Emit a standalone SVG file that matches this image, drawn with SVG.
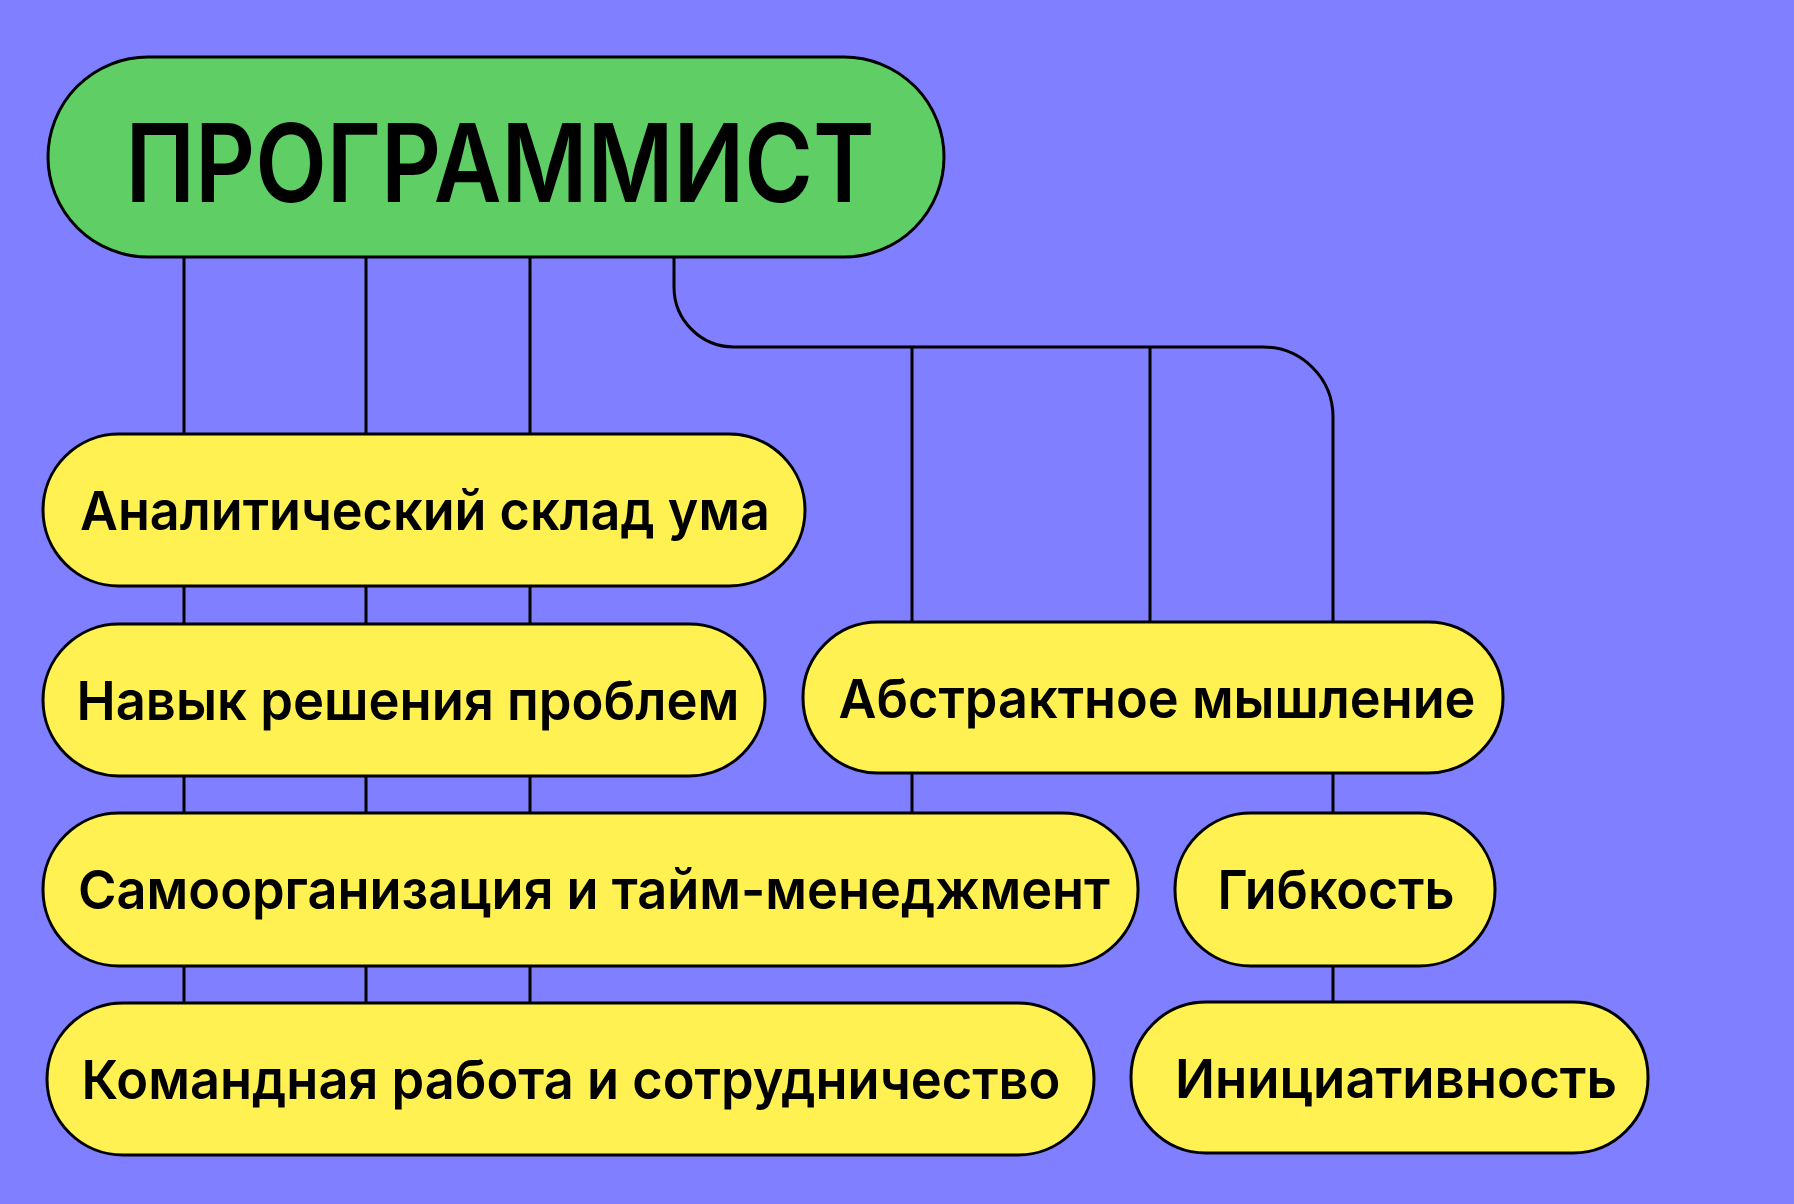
<svg xmlns="http://www.w3.org/2000/svg" width="1794" height="1204" viewBox="0 0 1794 1204">
<style>
.n{fill:#fff152;stroke:#000;stroke-width:3}
.m{fill:#5fcf65;stroke:#000;stroke-width:3}
.t{font-family:"Inter","Noto Sans","Liberation Sans",sans-serif;font-weight:600;font-size:54px;fill:#000;text-anchor:middle;dominant-baseline:central}
.c{fill:none;stroke:#000;stroke-width:3}
</style>
<rect width="1794" height="1204" fill="#7f7fff"/>
<g id="connectors" class="c">
<path d="M184 257V1003M366 257V1003M530 257V1003"/>
<path d="M674 257V287A60 60 0 0 0 734 347H1263A70 70 0 0 1 1333 417V1002"/>
<path d="M912 347V813M1150 347V622"/>
</g>
<g id="programmist"><rect class="m" x="48" y="57" width="896" height="200" rx="100"/><text class="t" x="500" y="162" style="font-size:108px" textLength="749" lengthAdjust="spacingAndGlyphs">ПРОГРАММИСТ</text></g>
<g id="n1"><rect class="n" x="43" y="434" width="762" height="152" rx="76"/><text class="t" x="425" y="510" textLength="690" lengthAdjust="spacingAndGlyphs">Аналитический склад ума</text></g>
<g id="n2"><rect class="n" x="43" y="624" width="722" height="152" rx="76"/><text class="t" x="408" y="700" textLength="663" lengthAdjust="spacingAndGlyphs">Навык решения проблем</text></g>
<g id="n3"><rect class="n" x="803" y="622" width="700" height="151" rx="75"/><text class="t" x="1157" y="698" textLength="637" lengthAdjust="spacingAndGlyphs">Абстрактное мышление</text></g>
<g id="n4"><rect class="n" x="43" y="813" width="1095" height="153" rx="76"/><text class="t" x="594" y="889" textLength="1032" lengthAdjust="spacingAndGlyphs">Самоорганизация и тайм-менеджмент</text></g>
<g id="n5"><rect class="n" x="1175" y="813" width="320" height="153" rx="76"/><text class="t" x="1336" y="889" textLength="237" lengthAdjust="spacingAndGlyphs">Гибкость</text></g>
<g id="n6"><rect class="n" x="47" y="1003" width="1047" height="152" rx="76"/><text class="t" x="571" y="1079" textLength="979" lengthAdjust="spacingAndGlyphs">Командная работа и сотрудничество</text></g>
<g id="n7"><rect class="n" x="1131" y="1002" width="517" height="151" rx="75"/><text class="t" x="1396" y="1078" textLength="442" lengthAdjust="spacingAndGlyphs">Инициативность</text></g>
</svg>
